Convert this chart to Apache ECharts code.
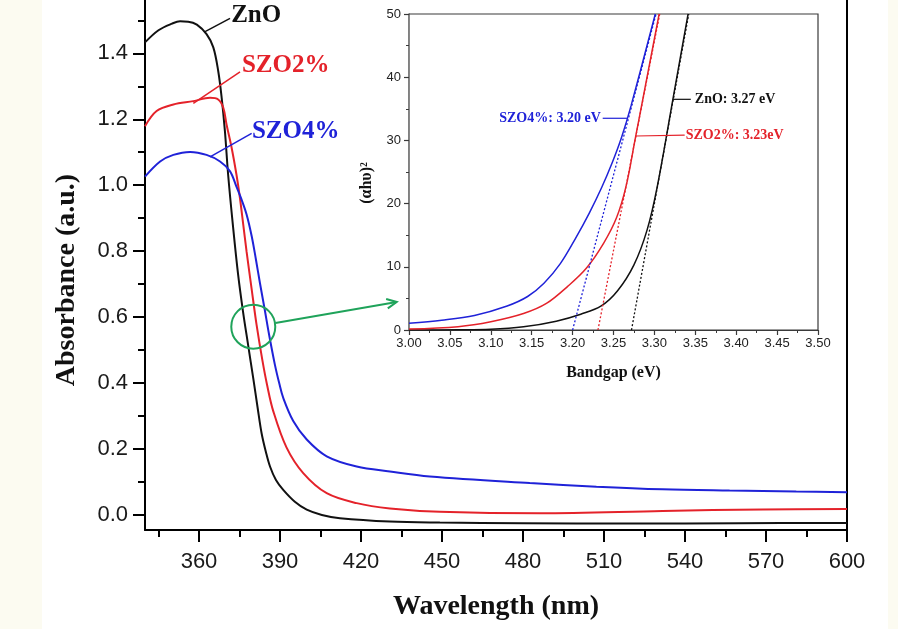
<!DOCTYPE html>
<html>
<head>
<meta charset="utf-8">
<script src="https://cdn.jsdelivr.net/npm/echarts@6/dist/echarts.min.js"></script>
<style>
  html, body { margin: 0; padding: 0; background: #ffffff; }
  #chart { width: 898px; height: 629px; }
</style>
</head>
<body>
<div id="chart"></div>
<script>
// ---- Absorbance spectra (wavelength in nm, absorbance in a.u.) ----
const wlZnO   = [340, 345, 350, 353, 356, 359.2, 362.8, 365.3, 367.1, 368.4, 369.6, 370.8, 372.6, 374.5, 376.3, 378.2, 380.1, 381.7, 383.2, 384.8, 386.3, 388.5, 391.2, 395.5, 399.9, 405.5, 412.2, 430.7, 449.2, 480, 520, 560, 600];
const absZnO  = [1.433, 1.470, 1.490, 1.497, 1.496, 1.487, 1.458, 1.418, 1.347, 1.265, 1.164, 1.031, 0.875, 0.728, 0.617, 0.515, 0.414, 0.326, 0.247, 0.190, 0.147, 0.106, 0.076, 0.040, 0.016, 0.000, -0.010, -0.020, -0.023, -0.025, -0.026, -0.025, -0.024];

const wlSZO2  = [340, 344.3, 350.5, 357.9, 364.1, 367.1, 369.0, 370.2, 372.1, 373.9, 375.1, 376.4, 377.6, 379.5, 381.3, 383.5, 385.2, 387.5, 392.4, 398.6, 407.3, 418.4, 430.7, 449.2, 486.2, 531.7, 568.8, 600];
const absSZO2 = [1.179, 1.225, 1.245, 1.255, 1.265, 1.260, 1.235, 1.184, 1.113, 1.031, 0.965, 0.880, 0.800, 0.685, 0.578, 0.468, 0.395, 0.315, 0.205, 0.127, 0.066, 0.036, 0.020, 0.010, 0.005, 0.012, 0.017, 0.018];

const wlSZO4  = [340, 345.6, 350.5, 356.7, 362.8, 367.8, 371.5, 373.9, 375.6, 377.6, 379.5, 381.1, 382.6, 384.4, 386.0, 388.1, 389.7, 391.2, 394.9, 399.9, 407.3, 418.4, 430.7, 445.5, 482.5, 507.2, 531.7, 556.5, 581.2, 600];
const absSZO4 = [1.026, 1.072, 1.092, 1.101, 1.092, 1.072, 1.042, 0.995, 0.960, 0.912, 0.846, 0.774, 0.702, 0.620, 0.545, 0.456, 0.400, 0.355, 0.285, 0.229, 0.178, 0.147, 0.132, 0.117, 0.097, 0.086, 0.078, 0.074, 0.071, 0.069];

// ---- Tauc plot: (alpha h nu)^2 against photon energy (eV) ----
const egZnO    = [3.00, 3.06, 3.10, 3.14, 3.18, 3.21, 3.235, 3.255, 3.275, 3.291, 3.3035, 3.3226, 3.3412];
const taucZnO  = [0.0, 0.02, 0.1, 0.5, 1.4, 2.5, 3.8, 6.2, 10.3, 15.8, 22.7, 36.5, 50];

const egSZO2   = [3.00, 3.06, 3.10, 3.14, 3.168, 3.194, 3.217, 3.2382, 3.2538, 3.2651, 3.2762, 3.3058];
const taucSZO2 = [0.16, 0.53, 1.3, 2.6, 4.2, 6.9, 9.8, 13.8, 17.8, 22.6, 30, 50];

const egSZO4   = [3.00, 3.04, 3.08, 3.12, 3.145, 3.165, 3.185, 3.2036, 3.2204, 3.2354, 3.2485, 3.2599, 3.2715, 3.3011];
const taucSZO4 = [1.06, 1.55, 2.3, 3.8, 5.3, 7.4, 10.5, 14.5, 18.5, 22.5, 26.5, 30.5, 35.5, 50];

// Linear extrapolations to the energy axis (band gap intercepts)
const fitZnOEg  = [3.272, 3.342];
const fitSZO2Eg = [3.231, 3.3065];
const fitSZO4Eg = [3.200, 3.302];
const fitTauc   = [0, 50];

// ---- Tick labels ----
const wavelengthTicks      = [360, 390, 420, 450, 480, 510, 540, 570, 600];
const wavelengthMinorTicks = [345, 375, 405, 435, 465, 495, 525, 555, 585];
const absorbanceTicks      = [0.0, 0.2, 0.4, 0.6, 0.8, 1.0, 1.2, 1.4];
const absorbanceMinorTicks = [0.1, 0.3, 0.5, 0.7, 0.9, 1.1, 1.3, 1.5];

const zip = (xs, ys) => xs.map((x, i) => [x, ys[i]]);

const BLACK = '#111111';
const RED = '#e4222a';
const BLUE = '#1f22d8';
const GREEN = '#1fa35a';
const SANS = '"Liberation Sans", Arial, sans-serif';
const SERIF = '"Liberation Serif", "Times New Roman", serif';
const SMOOTH = 0.35;

const chart = echarts.init(document.getElementById('chart'), null, { renderer: 'canvas' });

const noSplit = { show: false };

const option = {
  animation: false,
  backgroundColor: '#ffffff',
  grid: [
    { left: 145, right: 51, top: 0, bottom: 99, containLabel: false },
    { left: 409, right: 80, top: 14, bottom: 299, containLabel: false, show: true,
      backgroundColor: '#ffffff', borderColor: '#3a3a3a', borderWidth: 1.2, z: 3 }
  ],
  xAxis: [
    { // main wavelength axis, labelled ticks
      gridIndex: 0, type: 'value', min: 340, max: 600, position: 'bottom',
      axisLine: { show: true, onZero: false, lineStyle: { color: '#000', width: 2 } },
      axisTick: { show: true, length: 12, customValues: wavelengthTicks, lineStyle: { color: '#000', width: 2 } },
      axisLabel: { show: true, customValues: wavelengthTicks, margin: 21, fontSize: 22, fontFamily: SANS, color: '#1a1a1a' },
      splitLine: noSplit
    },
    { // main wavelength axis, minor ticks
      gridIndex: 0, type: 'value', min: 340, max: 600, position: 'bottom',
      axisLine: { show: false, onZero: false },
      axisTick: { show: true, length: 7, customValues: wavelengthMinorTicks, lineStyle: { color: '#000', width: 2 } },
      axisLabel: { show: false },
      splitLine: noSplit
    },
    { // inset energy axis
      gridIndex: 1, type: 'value', min: 3.0, max: 3.5, interval: 0.05, position: 'bottom',
      axisLine: { show: true, onZero: false, lineStyle: { color: '#3a3a3a', width: 1.2 } },
      axisTick: { show: true, length: 5, lineStyle: { color: '#3a3a3a', width: 1.2 } },
      minorTick: { show: true, splitNumber: 2, length: 3, lineStyle: { color: '#3a3a3a', width: 1 } },
      axisLabel: { margin: 7, fontSize: 13, fontFamily: SANS, color: '#222', formatter: v => v.toFixed(2) },
      splitLine: noSplit, minorSplitLine: noSplit
    }
  ],
  yAxis: [
    { // main absorbance axis, labelled ticks
      gridIndex: 0, type: 'value', min: -0.0455, max: 1.5616, position: 'left',
      axisLine: { show: true, onZero: false, lineStyle: { color: '#000', width: 2 } },
      axisTick: { show: true, length: 12, customValues: absorbanceTicks, lineStyle: { color: '#000', width: 2 } },
      axisLabel: { show: true, customValues: absorbanceTicks, margin: 17, fontSize: 22, fontFamily: SANS, color: '#1a1a1a',
                   formatter: v => v.toFixed(1) },
      splitLine: noSplit
    },
    { // main absorbance axis, minor ticks
      gridIndex: 0, type: 'value', min: -0.0455, max: 1.5616, position: 'left',
      axisLine: { show: false, onZero: false },
      axisTick: { show: true, length: 7, customValues: absorbanceMinorTicks, lineStyle: { color: '#000', width: 2 } },
      axisLabel: { show: false },
      splitLine: noSplit
    },
    { // right frame line of the main plot
      gridIndex: 0, type: 'value', min: -0.0455, max: 1.5616, position: 'right',
      axisLine: { show: true, onZero: false, lineStyle: { color: '#000', width: 2 } },
      axisTick: { show: false }, axisLabel: { show: false }, splitLine: noSplit
    },
    { // inset (alpha h nu)^2 axis
      gridIndex: 1, type: 'value', min: 0, max: 50, interval: 10, position: 'left',
      axisLine: { show: true, onZero: false, lineStyle: { color: '#3a3a3a', width: 1.2 } },
      axisTick: { show: true, length: 5, lineStyle: { color: '#3a3a3a', width: 1.2 } },
      minorTick: { show: true, splitNumber: 2, length: 3, lineStyle: { color: '#3a3a3a', width: 1 } },
      axisLabel: { margin: 8, fontSize: 13, fontFamily: SANS, color: '#222' },
      splitLine: noSplit, minorSplitLine: noSplit
    }
  ],
  series: [
    { name: 'ZnO', type: 'line', xAxisIndex: 0, yAxisIndex: 0, data: zip(wlZnO, absZnO),
      showSymbol: false, smooth: SMOOTH, lineStyle: { color: BLACK, width: 2 }, z: 4 },
    { name: 'SZO2%', type: 'line', xAxisIndex: 0, yAxisIndex: 0, data: zip(wlSZO2, absSZO2),
      showSymbol: false, smooth: SMOOTH, lineStyle: { color: RED, width: 2 }, z: 4 },
    { name: 'SZO4%', type: 'line', xAxisIndex: 0, yAxisIndex: 0, data: zip(wlSZO4, absSZO4),
      showSymbol: false, smooth: SMOOTH, lineStyle: { color: BLUE, width: 2 }, z: 4 },

    { name: 'ZnO Tauc', type: 'line', xAxisIndex: 2, yAxisIndex: 3, data: zip(egZnO, taucZnO),
      showSymbol: false, smooth: SMOOTH, lineStyle: { color: BLACK, width: 1.5 }, z: 5 },
    { name: 'SZO2% Tauc', type: 'line', xAxisIndex: 2, yAxisIndex: 3, data: zip(egSZO2, taucSZO2),
      showSymbol: false, smooth: SMOOTH, lineStyle: { color: RED, width: 1.5 }, z: 5 },
    { name: 'SZO4% Tauc', type: 'line', xAxisIndex: 2, yAxisIndex: 3, data: zip(egSZO4, taucSZO4),
      showSymbol: false, smooth: SMOOTH, lineStyle: { color: BLUE, width: 1.5 }, z: 5 },

    { name: 'ZnO fit', type: 'line', xAxisIndex: 2, yAxisIndex: 3, data: zip(fitZnOEg, fitTauc),
      showSymbol: false, lineStyle: { color: BLACK, width: 1.3, type: [2, 2] }, z: 5 },
    { name: 'SZO2% fit', type: 'line', xAxisIndex: 2, yAxisIndex: 3, data: zip(fitSZO2Eg, fitTauc),
      showSymbol: false, lineStyle: { color: RED, width: 1.3, type: [2, 2] }, z: 5 },
    { name: 'SZO4% fit', type: 'line', xAxisIndex: 2, yAxisIndex: 3, data: zip(fitSZO4Eg, fitTauc),
      showSymbol: false, lineStyle: { color: BLUE, width: 1.3, type: [2, 2] }, z: 5 }
  ]
};

chart.setOption(option);

// ---- Annotations, placed through the axes' own coordinate systems ----
const MAIN = { xAxisIndex: 0, yAxisIndex: 0 };
const INSET = { xAxisIndex: 2, yAxisIndex: 3 };
const toPx = (sys, pt) => chart.convertToPixel(sys, pt);

// main-plot curve labels: pointer start on the curve, pointer end, text anchor
const mainLabels = [
  { text: 'ZnO',   color: BLACK, from: [361.9, 1.464], to: [371.5, 1.506], at: [371.9, 1.513] },
  { text: 'SZO2%', color: RED,   from: [357.9, 1.248], to: [375.2, 1.344], at: [375.9, 1.364] },
  { text: 'SZO4%', color: BLUE,  from: [364.1, 1.086], to: [379.5, 1.157], at: [379.6, 1.162] }
];
// inset labels
const insetLabels = [
  { text: 'SZO4%: 3.20 eV', color: BLUE,  from: [3.2665, 33.5], to: [3.2368, 33.5], at: [3.2344, 33.5], align: 'right' },
  { text: 'ZnO: 3.27 eV',   color: BLACK, from: [3.3226, 36.5], to: [3.3445, 36.5], at: [3.3494, 36.5], align: 'left' },
  { text: 'SZO2%: 3.23eV',  color: RED,   from: [3.2772, 30.7], to: [3.3370, 30.85], at: [3.3382, 30.85], align: 'left' }
];

const graphics = [];

// pale margins at both sides of the figure
graphics.push({ type: 'rect', shape: { x: 0, y: 0, width: 42, height: 629 }, style: { fill: '#fcfbf1' }, z: -10, silent: true });
graphics.push({ type: 'rect', shape: { x: 888, y: 0, width: 10, height: 629 }, style: { fill: '#fcfbf1' }, z: -10, silent: true });

mainLabels.forEach(l => {
  const a = toPx(MAIN, l.from), b = toPx(MAIN, l.to), t = toPx(MAIN, l.at);
  graphics.push({ type: 'line', shape: { x1: a[0], y1: a[1], x2: b[0], y2: b[1] },
                  style: { stroke: l.color, lineWidth: 1.5 }, z: 10 });
  graphics.push({ type: 'text', x: t[0], y: t[1], z: 10,
                  style: { text: l.text, fill: l.color, font: 'bold 25px ' + SERIF,
                           textAlign: 'left', textVerticalAlign: 'middle', align: 'left', verticalAlign: 'middle' } });
});

insetLabels.forEach(l => {
  const a = toPx(INSET, l.from), b = toPx(INSET, l.to), t = toPx(INSET, l.at);
  graphics.push({ type: 'line', shape: { x1: a[0], y1: a[1], x2: b[0], y2: b[1] },
                  style: { stroke: l.color, lineWidth: 1.2 }, z: 10 });
  graphics.push({ type: 'text', x: t[0], y: t[1], z: 10,
                  style: { text: l.text, fill: l.color, font: 'bold 14px ' + SERIF,
                           textAlign: l.align, textVerticalAlign: 'middle', align: l.align, verticalAlign: 'middle' } });
});

// green circle marking the absorption edge, with an arrow to the inset
const edgeCenter = toPx(MAIN, [380.1, 0.571]);
const arrowStart = toPx(MAIN, [388.3, 0.582]);
const arrowEnd = toPx(INSET, [2.985, 4.43]);
graphics.push({ type: 'circle', shape: { cx: edgeCenter[0], cy: edgeCenter[1], r: 22 },
                style: { fill: 'none', stroke: GREEN, lineWidth: 2 }, z: 10 });
graphics.push({ type: 'line', shape: { x1: arrowStart[0], y1: arrowStart[1], x2: arrowEnd[0], y2: arrowEnd[1] },
                style: { stroke: GREEN, lineWidth: 2 }, z: 10 });
(function () {
  const ang = Math.atan2(arrowEnd[1] - arrowStart[1], arrowEnd[0] - arrowStart[0]);
  const len = 11, spread = 0.45;
  const p1 = [arrowEnd[0] - len * Math.cos(ang - spread), arrowEnd[1] - len * Math.sin(ang - spread)];
  const p2 = [arrowEnd[0] - len * Math.cos(ang + spread), arrowEnd[1] - len * Math.sin(ang + spread)];
  graphics.push({ type: 'polyline', shape: { points: [p1, arrowEnd, p2] },
                  style: { fill: 'none', stroke: GREEN, lineWidth: 2 }, z: 10 });
})();

// axis titles
const gMain = { left: 145, top: 0, right: 847, bottom: 530 };
const gInset = { left: 409, top: 14, right: 818, bottom: 330 };
graphics.push({ type: 'text', x: 67, y: 280, rotation: Math.PI / 2, z: 10,
                style: { text: 'Absorbance (a.u.)', fill: '#111', font: 'bold 28px ' + SERIF,
                         textAlign: 'center', textVerticalAlign: 'middle', align: 'center', verticalAlign: 'middle' } });
graphics.push({ type: 'text', x: (gMain.left + gMain.right) / 2, y: 607, z: 10,
                style: { text: 'Wavelength (nm)', fill: '#111', font: 'bold 28px ' + SERIF,
                         textAlign: 'center', textVerticalAlign: 'middle', align: 'center', verticalAlign: 'middle' } });
graphics.push({ type: 'text', x: 367, y: 183, rotation: Math.PI / 2, z: 10,
                style: { text: '(αhυ)²', fill: '#111', font: 'bold 16px ' + SERIF,
                         textAlign: 'center', textVerticalAlign: 'middle', align: 'center', verticalAlign: 'middle' } });
graphics.push({ type: 'text', x: (gInset.left + gInset.right) / 2, y: 373, z: 10,
                style: { text: 'Bandgap (eV)', fill: '#111', font: 'bold 16px ' + SERIF,
                         textAlign: 'center', textVerticalAlign: 'middle', align: 'center', verticalAlign: 'middle' } });

chart.setOption({ graphic: graphics });
</script>
</body>
</html>
